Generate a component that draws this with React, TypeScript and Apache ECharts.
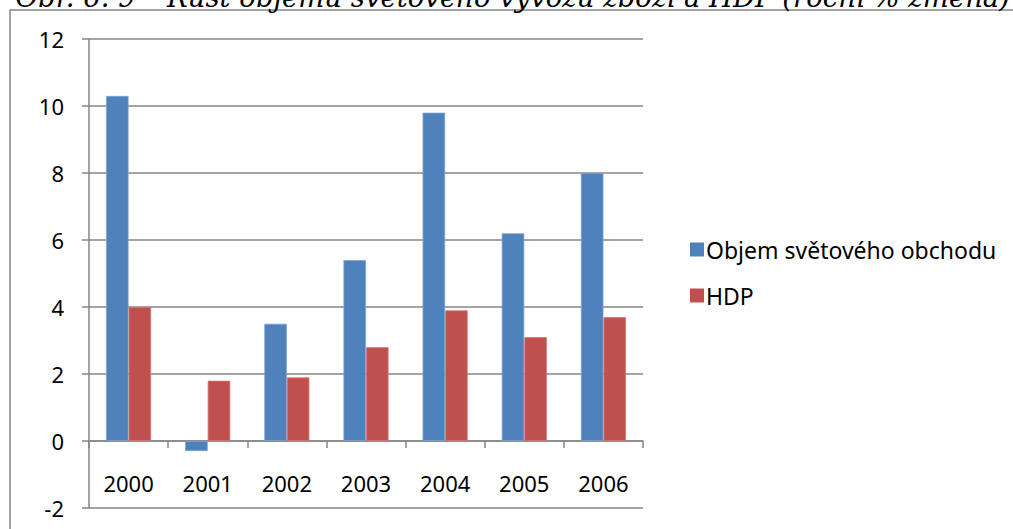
import React, { useEffect, useRef } from "react";
import * as echarts from "echarts";

const categories = ["2000", "2001", "2002", "2003", "2004", "2005", "2006"];
const tradeVolume = [10.3, -0.3, 3.5, 5.4, 9.8, 6.2, 8.0];
const gdp = [4.0, 1.8, 1.9, 2.8, 3.9, 3.1, 3.7];
const seriesNames = ["Objem světového obchodu", "HDP"];
const titleText = "Obr. 6. 9 – Růst objemu světového vývozu zboží a HDP (roční % změna)";

const FONT = "'Noto Sans', sans-serif";
const GRAY = "#868686";

export default function App() {
  const ref = useRef<HTMLDivElement>(null);
  useEffect(() => {
    if (!ref.current) return;
    const chart = echarts.init(ref.current, undefined, { renderer: "svg" });
    chart.setOption({
      animation: false,
      backgroundColor: "#ffffff",
      textStyle: { fontFamily: FONT, color: "#000" },
      graphic: [
        {
          type: "rect",
          shape: { x: 10, y: 10, width: 1100, height: 600 },
          style: { fill: "none", stroke: GRAY, lineWidth: 1.5 },
          silent: true,
        },
        {
          type: "text",
          x: 1010,
          y: 10,
          style: {
            text: titleText,
            fill: "#000",
            font: "italic 27.5px 'DejaVu Serif', serif",
            textAlign: "right",
            textVerticalAlign: "bottom",
          },
          silent: true,
        },
      ],
      grid: {
        left: 89,
        top: 39,
        right: 370,
        bottom: 21,
        containLabel: false,
        outerBoundsMode: "none",
      },
      legend: {
        orient: "vertical",
        left: 685,
        top: 233,
        icon: "rect",
        itemWidth: 14,
        itemHeight: 14,
        itemGap: 23,
        itemStyle: { borderWidth: 0 },
        textStyle: { fontFamily: FONT, fontSize: 23, color: "#000", padding: [0, 0, 0, -3] },
        data: seriesNames,
      },
      xAxis: [
        {
          type: "category",
          data: categories,
          axisLine: { onZero: true, lineStyle: { color: GRAY, width: 1.5 } },
          axisTick: { show: true, length: 7, lineStyle: { color: GRAY, width: 1.5 } },
          axisLabel: { show: false },
          splitLine: { show: false },
        },
        {
          type: "category",
          data: categories,
          position: "bottom",
          offset: -67,
          axisLine: { show: false, onZero: false },
          axisTick: { show: false },
          axisLabel: { margin: 31, fontSize: 22, color: "#000", fontFamily: FONT },
          splitLine: { show: false },
        },
      ],
      yAxis: {
        type: "value",
        min: -2,
        max: 12,
        interval: 2,
        axisLine: { show: true, lineStyle: { color: GRAY, width: 1.5 } },
        axisTick: { show: true, length: 7, lineStyle: { color: GRAY, width: 1.5 } },
        axisLabel: { margin: 25, fontSize: 22, color: "#000", fontFamily: FONT },
        splitLine: { show: true, lineStyle: { color: GRAY, width: 1.5 } },
      },
      series: [
        {
          name: seriesNames[0],
          type: "bar",
          xAxisIndex: 0,
          data: tradeVolume,
          barGap: "0%",
          barCategoryGap: "43%",
          itemStyle: { color: "#4F81BD", borderColor: "#7da3d3", borderWidth: 0.8 },
        },
        {
          name: seriesNames[1],
          type: "bar",
          xAxisIndex: 0,
          data: gdp,
          barGap: "0%",
          barCategoryGap: "43%",
          itemStyle: { color: "#C0504D", borderColor: "#d47a77", borderWidth: 0.8 },
        },
      ],
    });
    return () => chart.dispose();
  }, []);
  return (
    <div
      ref={ref}
      style={{ position: "absolute", left: 0, top: 0, width: 1013, height: 529, background: "#fff" }}
    />
  );
}
